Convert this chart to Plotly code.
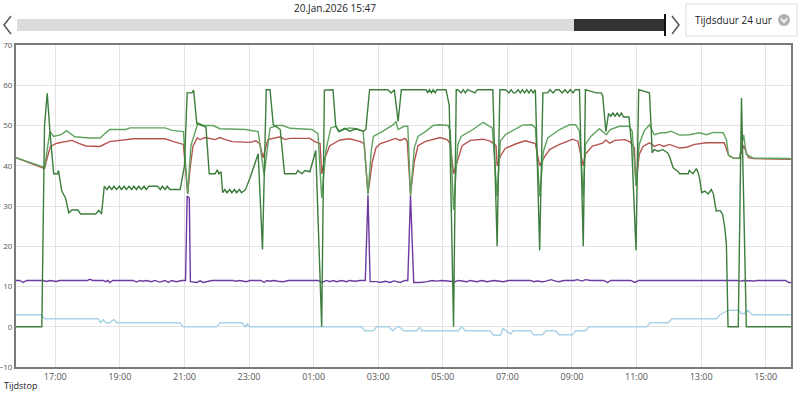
import plotly.graph_objects as go
from datetime import datetime, timedelta

# ---------------- data ----------------
HEADER_TIME = "20.Jan.2026 15:47"
DURATION_LABEL = "Tijdsduur 24 uur"
X_TITLE = "Tijdstop"
START_DAY = "2026-01-19"
RANGE_START = "15:47"
RANGE_END = "15:47"
X_TICK_TIMES = ["17:00", "19:00", "21:00", "23:00", "01:00", "03:00",
                "05:00", "07:00", "09:00", "11:00", "13:00", "15:00"]
Y_TICKS = [-10, 0, 10, 20, 30, 40, 50, 60, 70]

red_series = [
    ("15:47", 42.0), ("16:40", 39.3), ("16:44", 41.5), ("16:51", 44.8), ("17:03", 45.6),
    ("17:31", 46.3), ("17:45", 45.5), ("17:57", 44.9), ("18:23", 44.8), ("18:41", 46.0),
    ("19:26", 46.7), ("20:24", 46.7), ("20:37", 46.1), ("20:58", 45.3), ("21:06", 33.0),
    ("21:11", 40.0), ("21:16", 45.0), ("21:24", 46.9), ("21:29", 46.5), ("21:38", 47.0),
    ("21:57", 46.5), ("22:06", 47.0), ("22:16", 46.5), ("22:29", 46.0), ("23:02", 45.8),
    ("23:13", 46.2), ("23:20", 45.5), ("23:26", 42.0), ("23:35", 46.5), ("23:58", 47.2),
    ("00:07", 46.5), ("00:16", 46.8), ("00:53", 46.8), ("01:02", 46.0), ("01:12", 45.5),
    ("01:15", 38.0), ("01:21", 42.0), ("01:30", 45.0), ("01:49", 46.4), ("02:07", 46.7),
    ("02:27", 46.0), ("02:34", 45.5), ("02:41", 33.0), ("02:49", 41.0), ("02:56", 44.5),
    ("03:04", 45.5), ("03:22", 46.3), ("03:32", 46.8), ("03:41", 46.3), ("03:50", 46.8),
    ("03:54", 46.0), ("04:00", 33.0), ("04:07", 41.0), ("04:14", 45.0), ("04:27", 46.0),
    ("04:40", 46.5), ("04:55", 47.0), ("05:08", 46.5), ("05:14", 45.5), ("05:20", 38.0),
    ("05:27", 41.0), ("05:36", 45.0), ("05:51", 46.3), ("06:15", 46.6), ("06:28", 46.1),
    ("06:39", 45.0), ("06:41", 40.0), ("06:47", 42.4), ("06:56", 44.3), ("07:15", 45.4),
    ("07:33", 46.2), ("07:52", 45.5), ("08:00", 40.0), ("08:09", 42.2), ("08:19", 44.1),
    ("08:37", 45.3), ("08:56", 46.3), ("09:01", 46.6), ("09:11", 46.1), ("09:21", 40.0),
    ("09:25", 42.9), ("09:38", 44.9), ("09:57", 45.6), ("10:03", 46.4), ("10:10", 45.6),
    ("10:20", 46.3), ("10:39", 46.5), ("10:48", 45.9), ("10:56", 44.5), ("10:59", 35.0),
    ("11:05", 42.8), ("11:12", 44.8), ("11:24", 45.7), ("11:33", 44.8), ("11:42", 45.3),
    ("11:51", 44.8), ("12:01", 45.3), ("12:20", 44.4), ("12:33", 44.6), ("12:48", 45.3),
    ("13:10", 45.7), ("13:43", 45.7), ("13:51", 42.6), ("14:00", 41.9), ("14:11", 41.9),
    ("14:19", 45.0), ("14:28", 42.0), ("14:37", 41.8), ("15:47", 41.6),
]

light_green_series = [
    ("15:47", 42.0), ("16:40", 39.6), ("16:50", 48.5), ("16:57", 47.3), ("17:12", 47.8),
    ("17:21", 48.7), ("17:36", 47.2), ("18:04", 46.9), ("18:23", 46.9), ("18:41", 49.0),
    ("19:11", 49.0), ("19:19", 49.4), ("20:24", 49.4), ("20:37", 48.8), ("20:58", 48.5),
    ("21:06", 33.0), ("21:12", 45.0), ("21:25", 50.6), ("21:35", 50.0), ("21:53", 50.0),
    ("22:06", 49.2), ("22:53", 49.0), ("23:17", 48.5), ("23:28", 37.8), ("23:39", 49.4),
    ("23:52", 50.0), ("00:03", 50.0), ("00:16", 49.3), ("00:57", 49.0), ("01:08", 48.0),
    ("01:15", 32.0), ("01:23", 44.0), ("01:32", 49.4), ("01:41", 49.8), ("01:47", 48.4),
    ("01:56", 49.0), ("02:06", 49.4), ("02:19", 49.2), ("02:32", 48.6), ("02:41", 33.0),
    ("02:47", 43.6), ("02:51", 47.3), ("03:09", 48.6), ("03:28", 50.2), ("03:33", 51.0),
    ("03:37", 49.0), ("03:48", 49.8), ("03:55", 49.8), ("04:00", 32.5), ("04:07", 44.4),
    ("04:14", 47.3), ("04:29", 48.6), ("04:42", 50.0), ("04:53", 50.2), ("05:10", 50.0),
    ("05:14", 48.5), ("05:20", 29.0), ("05:28", 45.3), ("05:34", 47.3), ("05:56", 49.0),
    ("06:15", 50.8), ("06:23", 50.2), ("06:32", 49.4), ("06:41", 32.4), ("06:47", 46.1),
    ("06:56", 47.7), ("07:15", 49.0), ("07:28", 50.1), ("07:46", 50.2), ("07:52", 49.4),
    ("08:00", 32.4), ("08:07", 43.6), ("08:15", 46.9), ("08:37", 49.0), ("08:56", 50.2),
    ("09:07", 50.2), ("09:14", 48.6), ("09:21", 32.4), ("09:25", 45.3), ("09:35", 47.3),
    ("09:51", 49.2), ("10:01", 48.2), ("10:04", 47.7), ("10:11", 49.0), ("10:28", 49.8),
    ("10:46", 49.8), ("10:52", 48.6), ("10:59", 35.0), ("11:05", 45.3), ("11:14", 48.6),
    ("11:24", 50.2), ("11:33", 47.7), ("11:46", 48.2), ("11:55", 48.2), ("12:04", 48.6),
    ("12:20", 47.6), ("12:38", 47.7), ("12:57", 48.2), ("13:10", 47.7), ("13:23", 48.3),
    ("13:41", 48.2), ("13:47", 46.5), ("13:51", 42.6), ("14:00", 41.9), ("14:11", 41.8),
    ("14:19", 47.7), ("14:24", 42.8), ("14:37", 41.9), ("15:44", 41.8), ("15:47", 41.6),
]

dark_green_series = [
    ("15:47", 0), ("16:35", 0), ("16:40", 50), ("16:45", 58), ("16:50", 48.6), ("16:57", 38),
    ("17:04", 38), ("17:06", 38.8), ("17:12", 33.7), ("17:19", 32), ("17:25", 28.3),
    ("17:31", 29), ("17:42", 29), ("17:47", 28), ("18:15", 28), ("18:21", 28.9), ("18:26", 28),
    ("18:31", 34.9), ("18:36", 34.1), ("18:40", 34.9), ("18:45", 34.1), ("18:49", 34.9),
    ("18:54", 34.1), ("18:59", 34.9), ("19:03", 34.1), ("19:08", 34.9), ("19:12", 34.1),
    ("19:17", 34.9), ("19:22", 34.1), ("19:26", 34.9), ("19:31", 34.1), ("19:35", 34.9),
    ("19:40", 34.1), ("19:45", 34.9), ("19:49", 34.1), ("19:54", 34.9), ("20:10", 34.9),
    ("20:15", 34.1), ("20:19", 34.9), ("20:24", 34.1), ("20:28", 34.9), ("20:33", 34.1),
    ("20:52", 34.1), ("21:00", 40), ("21:05", 58.1), ("21:14", 58.1), ("21:17", 58.8),
    ("21:23", 50.5), ("21:40", 49.6), ("21:46", 38), ("21:57", 38), ("22:01", 39),
    ("22:04", 38), ("22:08", 38.5), ("22:11", 33.3), ("22:15", 34.1), ("22:19", 33.3),
    ("22:24", 34.1), ("22:28", 33.3), ("22:33", 34.1), ("22:37", 33.3), ("22:42", 34.1),
    ("22:46", 33.3), ("22:53", 34.0), ("23:02", 37), ("23:17", 43), ("23:25", 19.2),
    ("23:32", 58.9), ("23:39", 58.9), ("23:45", 50.2), ("23:58", 49), ("00:06", 38),
    ("00:27", 38), ("00:31", 38.8), ("00:38", 38), ("00:44", 38.8), ("00:53", 38.5),
    ("01:04", 43.8), ("01:15", 0), ("01:20", 58.8), ("01:36", 58.9), ("01:41", 50),
    ("01:47", 48.6), ("01:58", 49.3), ("02:07", 48.6), ("02:19", 49.2), ("02:32", 48.6),
    ("02:37", 49), ("02:44", 58.9), ("03:18", 58.9), ("03:24", 58.1), ("03:30", 58.9),
    ("03:37", 51), ("03:43", 58.9), ("04:29", 58.9), ("04:32", 58.1), ("04:35", 58.9),
    ("04:39", 58.1), ("04:42", 58.9), ("04:46", 58.1), ("04:49", 58.9), ("05:06", 58.9),
    ("05:12", 55), ("05:20", 0), ("05:25", 58.9), ("05:28", 58.9), ("05:34", 58.1),
    ("05:38", 58.9), ("05:42", 58.1), ("05:46", 58.9), ("06:00", 58.1), ("06:04", 58.9),
    ("06:33", 58.9), ("06:41", 20), ("06:46", 58.9), ("06:57", 58.9), ("07:03", 58.1),
    ("07:07", 58.9), ("07:11", 58.1), ("07:15", 58.1), ("07:20", 58.9), ("07:24", 58.1),
    ("07:28", 58.9), ("07:32", 58.1), ("07:36", 58.9), ("07:40", 58.1), ("07:44", 58.9),
    ("07:48", 58.1), ("07:52", 58.9), ("08:00", 19), ("08:06", 58.1), ("08:15", 58.1),
    ("08:19", 58.9), ("08:25", 58.1), ("08:30", 58.9), ("08:36", 58.9), ("08:42", 58.1),
    ("08:47", 58.9), ("08:52", 58.1), ("08:57", 58.9), ("09:02", 58.1), ("09:06", 58.9),
    ("09:14", 58.9), ("09:21", 20), ("09:25", 58.9), ("09:45", 58.1), ("09:54", 58.1),
    ("09:57", 57.5), ("10:03", 48.5), ("10:08", 53.0), ("10:12", 52.3), ("10:16", 53.1),
    ("10:20", 52.3), ("10:24", 53.1), ("10:28", 52.3), ("10:32", 53.1), ("10:36", 52.1),
    ("10:46", 52.1), ("10:51", 45), ("10:59", 19), ("11:04", 58.9), ("11:15", 58.5),
    ("11:24", 58.1), ("11:27", 50), ("11:29", 43.2), ("11:33", 44), ("11:40", 43.6),
    ("11:49", 44), ("11:58", 43.2), ("12:01", 42.4), ("12:08", 39.5), ("12:17", 38.6),
    ("12:20", 38), ("12:36", 38), ("12:38", 38.8), ("12:45", 38), ("12:51", 39.3),
    ("12:54", 38.5), ("12:57", 37), ("13:01", 33.3), ("13:07", 33.7), ("13:13", 33),
    ("13:19", 34.1), ("13:23", 32.9), ("13:28", 28.7), ("13:35", 28.9), ("13:40", 27.9),
    ("13:44", 24.6), ("13:47", 20.4), ("13:50", 0), ("14:09", 0), ("14:15", 56.8),
    ("14:24", 0), ("15:47", 0),
]

purple_series = [
    ("15:47", 11.5), ("15:54", 11.5), ("16:00", 11.0), ("16:07", 11.5), ("16:37", 11.5),
    ("16:44", 11.25), ("16:50", 11.5), ("17:02", 11.25), ("17:08", 11.5), ("18:00", 11.5),
    ("18:04", 11.8), ("18:10", 11.5), ("18:29", 11.5), ("18:34", 11.2), ("18:38", 11.5),
    ("18:41", 11.0), ("18:47", 11.5), ("19:25", 11.5), ("19:31", 11.1), ("19:37", 11.5),
    ("19:43", 11.3), ("19:49", 11.5), ("19:59", 11.2), ("20:05", 11.5), ("20:14", 11.1),
    ("20:24", 11.5), ("20:30", 11.0), ("20:36", 11.5), ("20:45", 11.2), ("20:55", 11.5),
    ("21:02", 11.5), ("21:05", 32.5), ("21:09", 32.0), ("21:11", 11.2), ("21:23", 11.0),
    ("21:29", 11.4), ("21:35", 11.0), ("21:41", 11.2), ("21:51", 11.5), ("22:31", 11.5),
    ("22:34", 11.3), ("22:43", 11.5), ("22:55", 11.2), ("23:02", 11.5), ("23:22", 11.5),
    ("23:28", 11.0), ("23:33", 11.5), ("23:39", 11.3), ("23:45", 11.5), ("23:54", 11.3),
    ("00:04", 11.2), ("00:13", 11.5), ("01:08", 11.5), ("01:15", 11.0), ("01:24", 11.5),
    ("01:30", 11.2), ("01:36", 11.5), ("01:43", 11.2), ("01:52", 11.5), ("02:01", 11.2),
    ("02:07", 11.5), ("02:17", 11.3), ("02:26", 11.5), ("02:36", 11.5), ("02:41", 32.8),
    ("02:45", 11.2), ("02:58", 11.2), ("03:04", 11.0), ("03:13", 11.3), ("03:22", 11.0),
    ("03:29", 11.4), ("03:41", 11.0), ("03:50", 11.5), ("03:55", 11.5), ("04:00", 32.6),
    ("04:06", 11.0), ("04:18", 11.0), ("04:31", 11.2), ("04:40", 11.5), ("04:49", 11.35),
    ("04:58", 11.5), ("05:23", 11.2), ("05:29", 11.5), ("05:45", 11.2), ("05:51", 11.5),
    ("06:03", 11.2), ("06:13", 11.5), ("06:22", 11.2), ("06:35", 11.5), ("06:53", 11.2),
    ("07:02", 11.5), ("07:43", 11.5), ("07:49", 11.2), ("07:55", 11.35), ("08:05", 11.2),
    ("08:12", 11.35), ("08:21", 11.7), ("08:30", 11.35), ("08:36", 11.2), ("08:45", 11.5),
    ("09:04", 11.5), ("09:10", 11.7), ("09:19", 11.35), ("09:25", 11.7), ("09:35", 11.5),
    ("09:59", 11.5), ("10:06", 11.0), ("10:12", 11.5), ("10:49", 11.5), ("10:57", 11.0),
    ("11:04", 11.5), ("14:07", 11.5), ("14:14", 11.35), ("14:19", 11.5), ("14:38", 11.35),
    ("14:44", 11.5), ("15:15", 11.5), ("15:21", 11.35), ("15:27", 11.5), ("15:37", 11.5),
    ("15:43", 11.0), ("15:47", 11.0),
]

blue_series = [
    ("15:47", 3.0), ("16:34", 3.0), ("16:40", 2.0), ("18:20", 2.0), ("18:24", 1.0),
    ("18:29", 1.8), ("18:34", 1.0), ("18:41", 1.0), ("18:49", 1.8), ("18:54", 1.0),
    ("20:52", 1.0), ("20:57", 0.0), ("22:00", 0.0), ("22:06", 1.0), ("22:47", 1.0),
    ("22:53", 0.0), ("22:57", 0.7), ("23:02", 0.0), ("02:29", 0.0), ("02:35", -1.0),
    ("02:51", -1.0), ("02:57", 0.0), ("03:19", 0.0), ("03:27", -1.0), ("03:35", -0.1),
    ("03:39", 0.0), ("03:47", -1.0), ("04:12", -1.0), ("04:17", -0.1), ("04:21", -1.0),
    ("05:29", -1.0), ("05:35", 0.0), ("05:42", -1.0), ("06:28", -1.0), ("06:34", -2.1),
    ("06:47", -2.1), ("06:52", -0.4), ("06:59", -1.2), ("07:06", -1.8), ("07:11", -1.0),
    ("07:43", -1.0), ("07:49", -2.0), ("08:05", -2.0), ("08:12", -1.0), ("08:30", -1.0),
    ("08:36", -2.0), ("09:01", -2.0), ("09:07", -1.0), ("09:25", -1.0), ("09:32", 0.0),
    ("11:19", 0.0), ("11:25", 1.0), ("11:59", 1.0), ("12:06", 2.0), ("13:29", 2.0),
    ("13:35", 3.0), ("13:51", 4.1), ("14:09", 4.1), ("14:15", 3.3), ("14:21", 3.3),
    ("14:27", 4.1), ("14:35", 3.0), ("15:47", 3.0),
]

# ---------------- helpers ----------------
def to_datetimes(times):
    base = datetime.strptime(START_DAY, "%Y-%m-%d")
    day, prev, out = 0, None, []
    for t in times:
        h, m = map(int, t.split(":"))
        mins = h * 60 + m
        if prev is not None and mins < prev:
            day += 1
        prev = mins
        out.append(base + timedelta(days=day, minutes=mins))
    return out


W, H = 800, 393
L, R, T, B = 16, 9, 45, 26
PW, PH = W - L - R, H - T - B


def px(x):
    return (x - L) / PW


def py(y):
    return (H - B - y) / PH


fig = go.Figure()

series_styles = [
    ("Buiten", blue_series, "#a9d3e5"),
    ("Paars", purple_series, "#6c3aa0"),
    ("Rood", red_series, "#b5534f"),
    ("Lichtgroen", light_green_series, "#5fa35f"),
    ("Donkergroen", dark_green_series, "#3d7d3d"),
]
for name, data, color in series_styles:
    xs = to_datetimes([t for t, _ in data])
    ys = [v for _, v in data]
    fig.add_trace(go.Scatter(x=xs, y=ys, mode="lines", name=name,
                             line=dict(color=color, width=1.4), showlegend=False))

rng = to_datetimes([RANGE_START, "00:00", RANGE_END])
tickvals = to_datetimes(X_TICK_TIMES)

fig.update_layout(
    width=W, height=H, autosize=False,
    margin=dict(l=L, r=R, t=T, b=B, autoexpand=False),
    paper_bgcolor="white", plot_bgcolor="white",
    font=dict(family="Open Sans", color="#444"),
    xaxis=dict(range=[rng[0], rng[2]], tickvals=tickvals, automargin=False,
               ticktext=X_TICK_TIMES, showgrid=True, gridcolor="#e3e3e3",
               gridwidth=1, showline=True, linecolor="#7a7a7a", linewidth=2,
               mirror=True, ticks="", tickfont=dict(size=9, color="#555"),
               zeroline=False),
    yaxis=dict(range=[-10, 70], tickvals=Y_TICKS, showgrid=True, automargin=False,
               gridcolor="#e3e3e3", gridwidth=1, showline=True,
               linecolor="#7a7a7a", linewidth=2, mirror=True, ticks="",
               tickfont=dict(size=8, color="#555"), zeroline=False),
)

shapes = []
# slider bar
shapes.append(dict(type="rect", xref="paper", yref="paper", x0=px(17), x1=px(574),
                   y0=py(31), y1=py(19), fillcolor="#dcdcdc", line=dict(width=0), layer="above"))
shapes.append(dict(type="rect", xref="paper", yref="paper", x0=px(574), x1=px(665),
                   y0=py(31), y1=py(19), fillcolor="#333333", line=dict(width=0), layer="above"))
shapes.append(dict(type="line", xref="paper", yref="paper", x0=px(665), x1=px(665),
                   y0=py(36), y1=py(14), line=dict(color="#111", width=2)))
# arrows
shapes.append(dict(type="path", xref="paper", yref="paper",
                   path=f"M {px(11)} {py(16)} L {px(4)} {py(25)} L {px(11)} {py(34)}",
                   line=dict(color="#555", width=1.5)))
shapes.append(dict(type="path", xref="paper", yref="paper",
                   path=f"M {px(672)} {py(16)} L {px(679)} {py(25)} L {px(672)} {py(34)}",
                   line=dict(color="#555", width=1.5)))
# duration button
shapes.append(dict(type="rect", xref="paper", yref="paper", x0=px(686), x1=px(797),
                   y0=py(36), y1=py(4), fillcolor="white", line=dict(color="#dcdcdc", width=1)))
shapes.append(dict(type="circle", xref="paper", yref="paper", x0=px(778), x1=px(790),
                   y0=py(26), y1=py(14), fillcolor="#b3b3b3", line=dict(width=0)))
shapes.append(dict(type="path", xref="paper", yref="paper",
                   path=f"M {px(781)} {py(18.5)} L {px(784)} {py(22)} L {px(787)} {py(18.5)}",
                   line=dict(color="white", width=1.5)))
fig.update_layout(shapes=shapes)

fig.add_annotation(x=px(335), y=py(8), xref="paper", yref="paper", text=HEADER_TIME,
                   showarrow=False, xanchor="center", yanchor="middle",
                   font=dict(size=10, color="#222"))
fig.add_annotation(x=px(733), y=py(20), xref="paper", yref="paper", text=DURATION_LABEL,
                   showarrow=False, xanchor="center", yanchor="middle",
                   font=dict(size=10, color="#222"))
fig.add_annotation(x=px(2), y=py(385), xref="paper", yref="paper", text=X_TITLE,
                   showarrow=False, xanchor="left", yanchor="middle",
                   font=dict(size=9, color="#222"))

fig.write_html("out.html",
               config={"displayModeBar": False},
               post_script="document.body.style.margin='0';"
                           "document.body.style.overflow='hidden';")
